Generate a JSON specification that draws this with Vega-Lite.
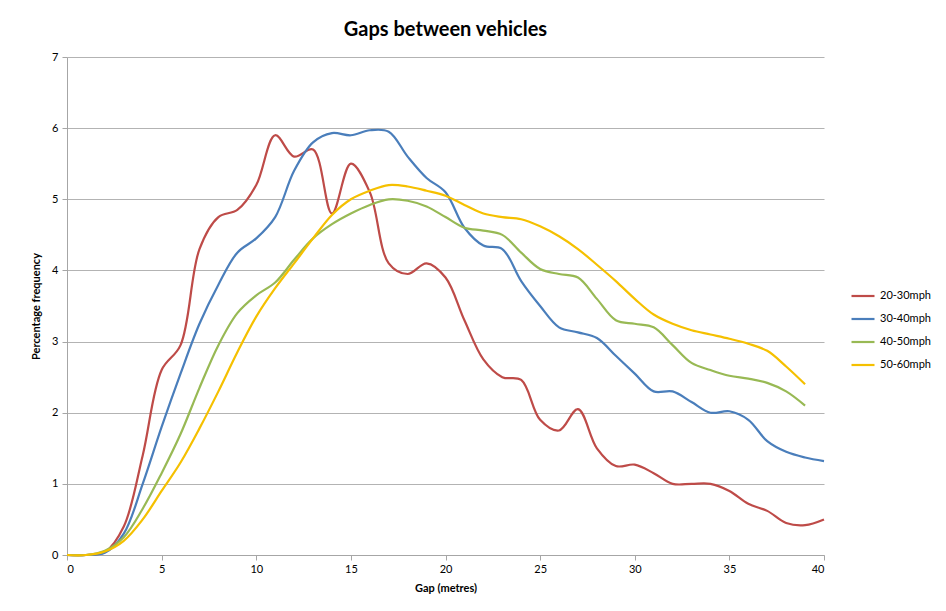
{
  "$schema": "https://vega.github.io/schema/vega-lite/v6.json",
  "autosize": "none",
  "width": 757,
  "height": 498,
  "padding": {"left": 67, "top": 57, "right": 122, "bottom": 56},
  "background": "white",
  "title": {"text": "Gaps between vehicles", "font": "Lato", "fontSize": 20, "fontWeight": "bold", "color": "#000000", "offset": 11, "anchor": "middle"},
  "config": {"view": {"stroke": null}, "font": "Lato"},
  "data": {"values": [
    {"gap": 0, "20-30mph": 0, "30-40mph": 0, "40-50mph": 0, "50-60mph": 0},
    {"gap": 1, "20-30mph": 0, "30-40mph": 0, "40-50mph": 0, "50-60mph": 0},
    {"gap": 2, "20-30mph": 0.04, "30-40mph": 0.03, "40-50mph": 0.06, "50-60mph": 0.05},
    {"gap": 3, "20-30mph": 0.4, "30-40mph": 0.3, "40-50mph": 0.25, "50-60mph": 0.2},
    {"gap": 4, "20-30mph": 1.4, "30-40mph": 1.0, "40-50mph": 0.65, "50-60mph": 0.5},
    {"gap": 5, "20-30mph": 2.6, "30-40mph": 1.8, "40-50mph": 1.15, "50-60mph": 0.9},
    {"gap": 6, "20-30mph": 2.95, "30-40mph": 2.55, "40-50mph": 1.7, "50-60mph": 1.3},
    {"gap": 7, "20-30mph": 4.3, "30-40mph": 3.25, "40-50mph": 2.35, "50-60mph": 1.78},
    {"gap": 8, "20-30mph": 4.75, "30-40mph": 3.8, "40-50mph": 2.95, "50-60mph": 2.3},
    {"gap": 9, "20-30mph": 4.85, "30-40mph": 4.25, "40-50mph": 3.4, "50-60mph": 2.85},
    {"gap": 10, "20-30mph": 5.2, "30-40mph": 4.45, "40-50mph": 3.65, "50-60mph": 3.35},
    {"gap": 11, "20-30mph": 5.9, "30-40mph": 4.75, "40-50mph": 3.83, "50-60mph": 3.75},
    {"gap": 12, "20-30mph": 5.6, "30-40mph": 5.4, "40-50mph": 4.15, "50-60mph": 4.1},
    {"gap": 13, "20-30mph": 5.7, "30-40mph": 5.8, "40-50mph": 4.45, "50-60mph": 4.45},
    {"gap": 14, "20-30mph": 4.8, "30-40mph": 5.93, "40-50mph": 4.65, "50-60mph": 4.78},
    {"gap": 15, "20-30mph": 5.5, "30-40mph": 5.9, "40-50mph": 4.8, "50-60mph": 5.0},
    {"gap": 16, "20-30mph": 5.1, "30-40mph": 5.97, "40-50mph": 4.92, "50-60mph": 5.12},
    {"gap": 17, "20-30mph": 4.1, "30-40mph": 5.95, "40-50mph": 5.0, "50-60mph": 5.2},
    {"gap": 18, "20-30mph": 3.95, "30-40mph": 5.6, "40-50mph": 4.98, "50-60mph": 5.18},
    {"gap": 19, "20-30mph": 4.1, "30-40mph": 5.3, "40-50mph": 4.9, "50-60mph": 5.12},
    {"gap": 20, "20-30mph": 3.9, "30-40mph": 5.1, "40-50mph": 4.75, "50-60mph": 5.05},
    {"gap": 21, "20-30mph": 3.3, "30-40mph": 4.6, "40-50mph": 4.6, "50-60mph": 4.92},
    {"gap": 22, "20-30mph": 2.75, "30-40mph": 4.35, "40-50mph": 4.56, "50-60mph": 4.8},
    {"gap": 23, "20-30mph": 2.5, "30-40mph": 4.3, "40-50mph": 4.5, "50-60mph": 4.75},
    {"gap": 24, "20-30mph": 2.46, "30-40mph": 3.85, "40-50mph": 4.25, "50-60mph": 4.72},
    {"gap": 25, "20-30mph": 1.9, "30-40mph": 3.5, "40-50mph": 4.02, "50-60mph": 4.62},
    {"gap": 26, "20-30mph": 1.75, "30-40mph": 3.2, "40-50mph": 3.95, "50-60mph": 4.48},
    {"gap": 27, "20-30mph": 2.05, "30-40mph": 3.13, "40-50mph": 3.9, "50-60mph": 4.3},
    {"gap": 28, "20-30mph": 1.5, "30-40mph": 3.05, "40-50mph": 3.6, "50-60mph": 4.08},
    {"gap": 29, "20-30mph": 1.25, "30-40mph": 2.8, "40-50mph": 3.3, "50-60mph": 3.85},
    {"gap": 30, "20-30mph": 1.27, "30-40mph": 2.55, "40-50mph": 3.25, "50-60mph": 3.6},
    {"gap": 31, "20-30mph": 1.15, "30-40mph": 2.3, "40-50mph": 3.2, "50-60mph": 3.38},
    {"gap": 32, "20-30mph": 1.0, "30-40mph": 2.3, "40-50mph": 2.95, "50-60mph": 3.25},
    {"gap": 33, "20-30mph": 1.0, "30-40mph": 2.15, "40-50mph": 2.7, "50-60mph": 3.16},
    {"gap": 34, "20-30mph": 1.0, "30-40mph": 2.0, "40-50mph": 2.6, "50-60mph": 3.1},
    {"gap": 35, "20-30mph": 0.9, "30-40mph": 2.02, "40-50mph": 2.52, "50-60mph": 3.04},
    {"gap": 36, "20-30mph": 0.72, "30-40mph": 1.9, "40-50mph": 2.48, "50-60mph": 2.97},
    {"gap": 37, "20-30mph": 0.62, "30-40mph": 1.6, "40-50mph": 2.42, "50-60mph": 2.87},
    {"gap": 38, "20-30mph": 0.45, "30-40mph": 1.45, "40-50mph": 2.3, "50-60mph": 2.65},
    {"gap": 39, "20-30mph": 0.42, "30-40mph": 1.37, "40-50mph": 2.1, "50-60mph": 2.4},
    {"gap": 40, "20-30mph": 0.5, "30-40mph": 1.32, "40-50mph": null, "50-60mph": null}
  ]},
  "transform": [
    {"fold": ["20-30mph", "30-40mph", "40-50mph", "50-60mph"], "as": ["speed", "pct"]},
    {"filter": "isValid(datum.pct)"}
  ],
  "mark": {"type": "line", "interpolate": "catmull-rom", "strokeWidth": 2.2},
  "encoding": {
    "x": {
      "field": "gap", "type": "quantitative",
      "scale": {"domain": [0, 40], "nice": false, "zero": true},
      "axis": {"title": "Gap (metres)", "titleFont": "Lato", "titleFontSize": 11, "titleFontWeight": "bold", "titleColor": "#000", "titlePadding": 8,
               "values": [0, 5, 10, 15, 20, 25, 30, 35, 40], "grid": false, "domainColor": "#a6a6a6", "tickColor": "#a6a6a6", "tickSize": 5,
               "labelFont": "Lato", "labelFontSize": 11, "labelColor": "#000", "labelPadding": 3}
    },
    "y": {
      "field": "pct", "type": "quantitative",
      "scale": {"domain": [0, 7], "nice": false},
      "axis": {"title": "Percentage frequency", "titleFont": "Lato", "titleFontSize": 11, "titleFontWeight": "bold", "titleColor": "#000", "titlePadding": 10,
               "values": [0, 1, 2, 3, 4, 5, 6, 7], "grid": true, "gridColor": "#b3b3b3", "gridWidth": 1.2, "domainColor": "#a6a6a6", "tickColor": "#a6a6a6", "tickSize": 5,
               "labelFont": "Lato", "labelFontSize": 11, "labelColor": "#000", "labelPadding": 4}
    },
    "color": {
      "field": "speed", "type": "nominal",
      "scale": {"domain": ["20-30mph", "30-40mph", "40-50mph", "50-60mph"], "range": ["#BE4B48", "#4A7EBB", "#98B954", "#F5C000"]},
      "legend": {"title": null, "orient": "none", "legendX": 783, "legendY": 226, "symbolType": "stroke", "symbolSize": 529, "symbolStrokeWidth": 2.2,
                 "labelFont": "Lato", "labelFontSize": 11, "labelColor": "#000", "rowPadding": 5, "labelOffset": 4}
    }
  }
}
